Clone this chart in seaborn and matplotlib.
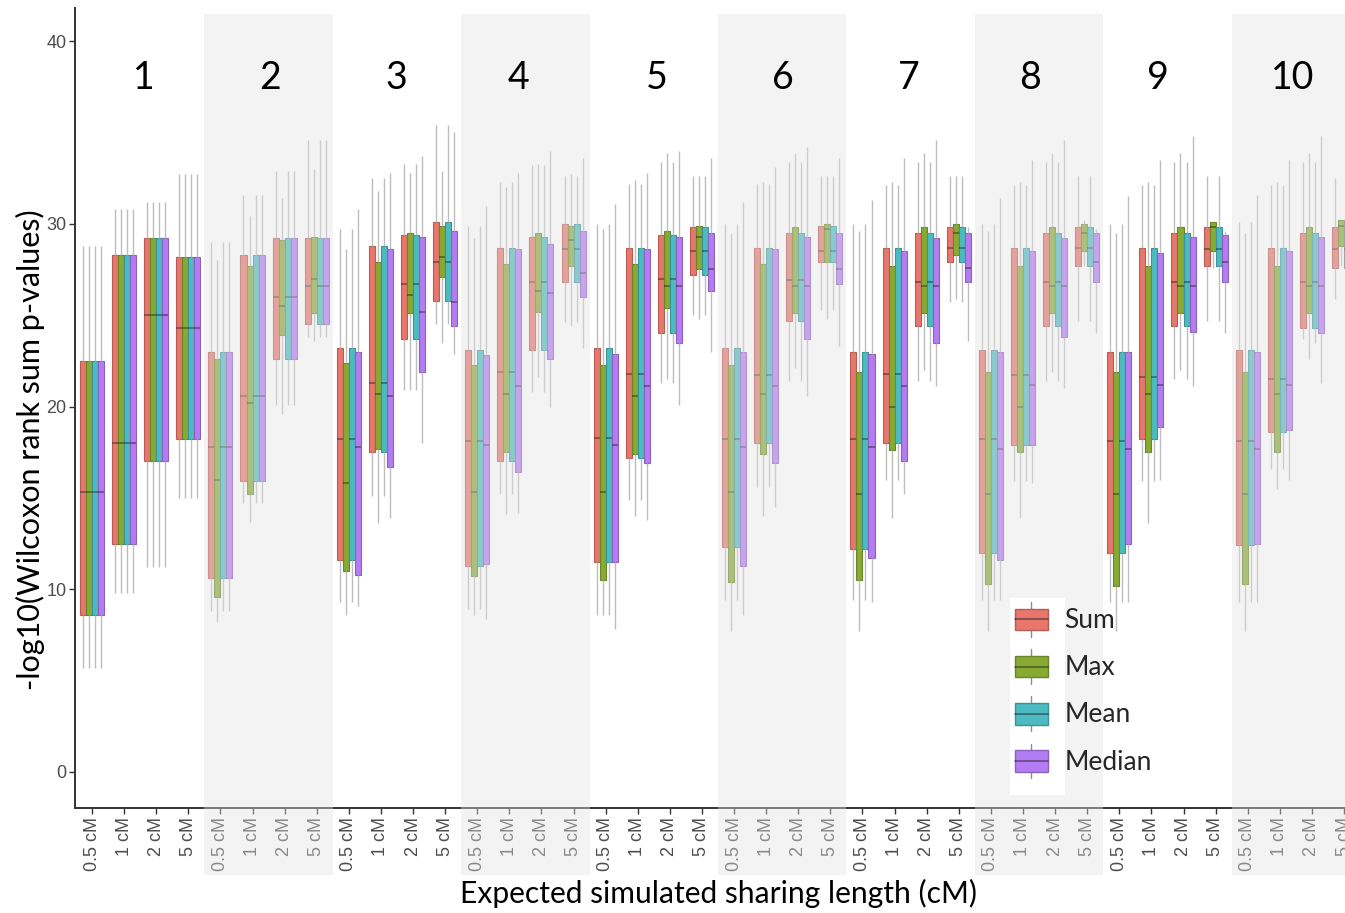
import numpy as np
import pandas as pd
import matplotlib
matplotlib.use("Agg")
import matplotlib.pyplot as plt
import matplotlib.colors as mcolors
import seaborn as sns
from matplotlib.patches import Rectangle, Patch
from matplotlib.lines import Line2D
from matplotlib.legend_handler import HandlerBase
from matplotlib.transforms import blended_transform_factory

GROUPS = [str(g) for g in range(1, 11)]
LENGTHS = ["0.5 cM", "1 cM", "2 cM", "5 cM"]
STATS = ["Sum", "Max", "Mean", "Median"]
COLORS = ["#E8766C", "#86AA32", "#4CBBC1", "#B47CF2"]

# Five-number summaries per box: (lower whisker, Q1, median, Q3, upper whisker)
# rows run group 1..10, each with 0.5 / 1 / 2 / 5 cM
SUM = [
    (5.7, 8.6, 15.3, 22.5, 28.8), (9.8, 12.5, 18.0, 28.3, 30.8), (11.2, 17.0, 25.0, 29.2, 31.2), (15.0, 18.2, 24.3, 28.2, 32.7),
    (8.8, 10.6, 17.8, 23.0, 29.0), (14.7, 15.9, 20.6, 28.3, 31.6), (20.1, 22.6, 26.0, 29.2, 32.9), (23.8, 24.5, 26.6, 29.2, 34.6),
    (9.3, 11.6, 18.2, 23.2, 29.7), (15.1, 17.5, 21.3, 28.8, 32.5), (20.9, 23.7, 26.7, 29.4, 33.3), (24.5, 25.8, 27.9, 30.1, 35.4),
    (8.9, 11.3, 18.1, 23.1, 29.9), (15.2, 17.0, 21.9, 28.7, 32.3), (20.8, 23.1, 26.8, 29.3, 33.2), (24.6, 26.8, 28.6, 30.0, 32.6),
    (8.6, 11.5, 18.3, 23.2, 30.0), (14.9, 17.2, 21.8, 28.7, 32.2), (21.3, 24.0, 27.0, 29.4, 33.4), (25.0, 27.2, 28.5, 29.8, 32.6),
    (9.4, 12.3, 18.2, 23.2, 30.0), (15.6, 18.0, 21.7, 28.7, 32.2), (21.4, 24.7, 26.9, 29.5, 33.4), (25.3, 27.9, 28.5, 29.9, 32.6),
    (9.4, 12.2, 18.2, 23.0, 30.0), (16.0, 18.0, 21.8, 28.7, 32.1), (21.4, 24.4, 26.8, 29.5, 33.4), (25.7, 27.9, 28.7, 29.8, 32.6),
    (9.4, 12.0, 18.2, 23.1, 30.0), (15.9, 17.9, 21.7, 28.7, 32.1), (21.4, 24.4, 26.8, 29.5, 33.4), (24.7, 27.7, 28.7, 29.8, 32.6),
    (9.3, 12.0, 18.1, 23.0, 30.0), (15.9, 18.2, 21.6, 28.7, 32.1), (21.5, 24.4, 26.8, 29.5, 33.4), (24.7, 27.7, 28.6, 29.8, 32.6),
    (9.3, 12.4, 18.1, 23.1, 30.1), (16.6, 18.6, 21.5, 28.7, 32.1), (23.7, 24.3, 26.8, 29.5, 33.4), (25.9, 27.6, 28.6, 29.8, 32.5),
]
MAX = [
    (5.7, 8.6, 15.3, 22.5, 28.8), (9.8, 12.5, 18.0, 28.3, 30.8), (11.2, 17.0, 25.0, 29.2, 31.2), (15.0, 18.2, 24.3, 28.2, 32.7),
    (8.2, 9.6, 16.0, 22.6, 28.0), (13.7, 15.2, 20.2, 27.7, 30.4), (19.6, 23.9, 25.5, 29.1, 31.4), (23.6, 25.1, 27.0, 29.3, 33.0),
    (8.6, 11.0, 15.8, 22.4, 28.6), (13.6, 17.7, 20.7, 27.9, 31.8), (20.9, 25.1, 26.1, 29.5, 32.8), (23.5, 27.1, 28.2, 29.9, 32.9),
    (8.6, 10.7, 15.3, 22.3, 29.2), (14.1, 17.5, 20.7, 27.8, 32.0), (21.6, 25.2, 26.3, 29.5, 33.3), (24.4, 27.7, 29.1, 29.9, 32.7),
    (8.6, 10.5, 15.3, 22.3, 29.7), (14.0, 17.4, 20.6, 27.8, 32.4), (21.5, 25.4, 26.6, 29.6, 33.9), (24.8, 27.5, 29.3, 29.9, 32.6),
    (7.7, 10.4, 15.3, 22.3, 29.5), (14.0, 17.4, 20.7, 27.8, 32.3), (22.1, 25.1, 26.6, 29.8, 33.9), (24.8, 27.9, 29.7, 30.0, 32.6),
    (7.7, 10.5, 15.2, 21.9, 29.6), (13.9, 17.6, 20.0, 27.7, 32.3), (22.0, 25.1, 26.6, 29.8, 33.9), (25.9, 28.3, 29.5, 30.0, 32.6),
    (7.7, 10.3, 15.2, 21.9, 29.6), (13.9, 17.5, 20.0, 27.7, 32.3), (21.9, 25.1, 26.6, 29.8, 33.9), (27.7, 28.5, 29.5, 30.0, 30.2),
    (7.7, 10.2, 15.2, 21.9, 29.5), (13.6, 17.5, 20.7, 27.7, 32.3), (22.0, 25.1, 26.6, 29.8, 33.9), (27.6, 28.5, 29.8, 30.1, 30.1),
    (7.7, 10.3, 15.2, 21.9, 29.5), (15.5, 17.5, 20.7, 27.7, 32.3), (22.6, 25.1, 26.6, 29.8, 33.9), (27.7, 28.8, 29.9, 30.2, 30.2),
]
MEAN = [
    (5.7, 8.6, 15.3, 22.5, 28.8), (9.8, 12.5, 18.0, 28.3, 30.8), (11.2, 17.0, 25.0, 29.2, 31.2), (15.0, 18.2, 24.3, 28.2, 32.7),
    (8.8, 10.6, 17.8, 23.0, 29.0), (14.7, 15.9, 20.6, 28.3, 31.6), (20.1, 22.6, 26.0, 29.2, 32.9), (23.8, 24.5, 26.6, 29.2, 34.6),
    (9.3, 11.6, 18.2, 23.2, 29.7), (15.1, 17.5, 21.3, 28.8, 32.5), (20.9, 23.7, 26.7, 29.4, 33.3), (24.5, 25.8, 27.9, 30.1, 35.4),
    (8.9, 11.3, 18.1, 23.1, 29.9), (15.2, 17.0, 21.9, 28.7, 32.3), (20.8, 23.1, 26.8, 29.3, 33.2), (24.6, 26.8, 28.6, 30.0, 32.6),
    (8.6, 11.5, 18.3, 23.2, 30.0), (14.9, 17.2, 21.8, 28.7, 32.2), (21.3, 24.0, 27.0, 29.4, 33.4), (25.0, 27.2, 28.5, 29.8, 32.6),
    (9.4, 12.3, 18.2, 23.2, 30.0), (15.6, 18.0, 21.7, 28.7, 32.2), (21.4, 24.7, 26.9, 29.5, 33.4), (25.3, 27.9, 28.5, 29.9, 32.6),
    (9.4, 12.2, 18.2, 23.0, 30.0), (16.0, 18.0, 21.8, 28.7, 32.1), (21.4, 24.4, 26.8, 29.5, 33.4), (25.7, 27.9, 28.7, 29.8, 32.6),
    (9.4, 12.0, 18.2, 23.1, 30.0), (15.9, 17.9, 21.7, 28.7, 32.1), (21.4, 24.4, 26.8, 29.5, 33.4), (24.7, 27.7, 28.7, 29.8, 32.6),
    (9.3, 12.0, 18.1, 23.0, 30.0), (15.9, 18.2, 21.6, 28.7, 32.1), (21.5, 24.4, 26.8, 29.5, 33.4), (24.7, 27.7, 28.6, 29.8, 32.6),
    (9.3, 12.4, 18.1, 23.1, 30.1), (16.6, 18.6, 21.5, 28.7, 32.1), (23.5, 24.3, 26.8, 29.5, 33.4), (25.9, 27.6, 28.6, 29.8, 32.5),
]
MEDIAN = [
    (5.7, 8.6, 15.3, 22.5, 28.8), (9.8, 12.5, 18.0, 28.3, 30.8), (11.2, 17.0, 25.0, 29.2, 31.2), (15.0, 18.2, 24.3, 28.2, 32.7),
    (8.8, 10.6, 17.8, 23.0, 29.0), (14.7, 15.9, 20.6, 28.3, 31.6), (20.1, 22.6, 26.0, 29.2, 32.9), (23.8, 24.5, 26.6, 29.2, 34.6),
    (9.1, 10.8, 17.8, 23.0, 30.8), (13.9, 16.7, 20.6, 28.6, 32.8), (18.0, 21.9, 25.2, 29.3, 33.7), (22.9, 24.4, 25.7, 29.6, 35.0),
    (8.4, 11.4, 17.9, 22.8, 31.0), (14.2, 16.4, 21.1, 28.6, 32.8), (20.0, 22.6, 26.2, 28.9, 34.0), (23.2, 26.0, 27.3, 29.6, 33.6),
    (7.8, 11.5, 17.9, 22.9, 31.1), (13.8, 16.9, 21.1, 28.6, 32.8), (20.1, 23.5, 26.6, 29.3, 34.0), (23.0, 26.3, 27.5, 29.5, 33.6),
    (8.6, 11.3, 17.8, 23.0, 31.2), (14.5, 16.9, 21.1, 28.6, 33.1), (20.6, 23.7, 26.6, 29.3, 34.2), (23.3, 26.7, 27.5, 29.5, 33.6),
    (9.3, 11.7, 17.8, 22.9, 31.3), (15.2, 17.0, 21.1, 28.5, 33.6), (21.1, 23.5, 26.6, 29.2, 34.6), (23.6, 26.8, 27.6, 29.5, 29.8),
    (9.4, 11.6, 17.7, 23.0, 31.4), (15.8, 17.9, 21.2, 28.5, 33.5), (21.0, 23.8, 26.6, 29.2, 34.6), (24.0, 26.8, 27.9, 29.5, 29.7),
    (9.3, 12.5, 17.7, 23.0, 31.5), (16.0, 18.9, 21.2, 28.4, 33.5), (21.1, 24.1, 26.6, 29.3, 34.8), (24.0, 26.8, 27.9, 29.4, 29.6),
    (9.3, 12.5, 17.7, 23.0, 31.6), (16.0, 18.7, 21.2, 28.5, 33.5), (21.3, 24.0, 26.6, 29.3, 34.8), (24.0, 26.8, 27.9, 29.4, 29.6),
]

# horizontal placement of each group number inside its block (category units)
LABEL_OFFSETS = [1.62, 1.55, 1.47, 1.30, 1.60, 1.53, 1.45, 1.22, 1.21, 1.41]

# long-form table: each summary expands to five observations whose
# min / quartiles / max reproduce that summary exactly
slots = [f"{g} / {l}" for g in GROUPS for l in LENGTHS]
records = []
for stat, table in zip(STATS, [SUM, MAX, MEAN, MEDIAN]):
    for slot, summary in zip(slots, table):
        for v in summary:
            records.append({"slot": slot, "stat": stat, "value": v})
df = pd.DataFrame(records)

sns.set_theme(style="white")
plt.rcParams["font.family"] = ["Liberation Sans", "DejaVu Sans"]

fig = plt.figure(figsize=(13.45, 9.13), dpi=100)
ax = fig.add_axes([0.05576, 0.11501, 0.95688, 0.87623])

median_color = (0.12, 0.12, 0.12, 0.55)
sns.boxplot(
    data=df, x="slot", y="value", hue="stat", order=slots, hue_order=STATS,
    palette=dict(zip(STATS, COLORS)), saturation=1, width=0.75, gap=0,
    dodge=True, whis=np.inf, showcaps=False, linewidth=0.8, fliersize=0,
    legend=False, ax=ax,
    whiskerprops={"color": "#BDBDBD", "linewidth": 1.0},
    medianprops={"color": median_color, "linewidth": 1.1},
)


def darker(c, f=0.78):
    r, g, b = mcolors.to_rgb(c)
    return (r * f, g * f, b * f)


for p in ax.patches:
    p.set_edgecolor(darker(p.get_facecolor()))
    p.set_linewidth(0.8)

ax.set_xlim(-0.53, 39.56)
ax.set_ylim(-1.97, 41.81)
ax.set_yticks([0, 10, 20, 30, 40])
ax.set_xticks(range(len(slots)))
ax.set_xticklabels(LENGTHS * len(GROUPS), rotation=90)

for side in ["top", "right"]:
    ax.spines[side].set_visible(False)
for side in ["left", "bottom"]:
    ax.spines[side].set_color("#333333")
    ax.spines[side].set_linewidth(1.4)

ax.tick_params(axis="both", which="major", length=4, width=1, color="#333333",
               labelcolor="#4D4D4D", labelsize=13, bottom=True, left=True, pad=2.2)

# group numbers above each block of four lengths
for gi, (g, off) in enumerate(zip(GROUPS, LABEL_OFFSETS)):
    ax.text(4 * gi + off, 38.0, g, ha="center", va="center", fontsize=27,
            family="Lato", color="black", zorder=6)

# translucent band over every second group, down through the tick labels
band = blended_transform_factory(ax.transData, fig.transFigure)
for gi in range(1, len(GROUPS), 2):
    ax.add_artist(Rectangle((4 * gi - 0.5, 0.0416), 4, 0.9431, transform=band,
                            facecolor=(0.89, 0.89, 0.89), alpha=0.4,
                            edgecolor="none", clip_on=False, zorder=4))

ax.set_ylabel("-log10(Wilcoxon rank sum p-values)", fontsize=22, family="Lato",
              color="black")
ax.yaxis.set_label_coords(-0.035, 0.4475)
ax.yaxis.label.set_va("center")
ax.set_xlabel("Expected simulated sharing length (cM)", fontsize=21.6,
              family="Lato", color="black")
ax.xaxis.set_label_coords(0.5, -0.10625)
ax.xaxis.label.set_va("center")


class BoxKey(HandlerBase):
    def create_artists(self, legend, orig_handle, xdescent, ydescent,
                       width, height, fontsize, trans):
        fc = orig_handle.get_facecolor()
        x0, y0 = -xdescent, -ydescent
        cx = x0 + width / 2
        whisker = Line2D([cx, cx], [y0, y0 + height], color="#8C8C8C", lw=1,
                         transform=trans)
        box = Rectangle((x0, y0 + height * 0.19), width, height * 0.62,
                        facecolor=fc, edgecolor=darker(fc), lw=1, transform=trans)
        median = Line2D([x0, x0 + width], [y0 + height / 2] * 2,
                        color=median_color, lw=1.2, transform=trans)
        return [whisker, box, median]


fig.add_artist(Rectangle((1010 / 1345, 1 - 795 / 913), 55 / 1345, 197 / 913,
                         transform=fig.transFigure, facecolor="white",
                         edgecolor="none", zorder=1))
handles = [Patch(facecolor=c) for c in COLORS]
fig.legend(handles, STATS, handler_map={Patch: BoxKey()}, loc="upper left",
           bbox_to_anchor=(1015 / 1345, 1 - 602 / 913), frameon=False,
           borderpad=0, borderaxespad=0, handlelength=1.25, handleheight=1.65,
           labelspacing=0.47, handletextpad=0.62,
           prop={"family": "Lato", "size": 19})

fig.savefig("out.png", dpi=100)
